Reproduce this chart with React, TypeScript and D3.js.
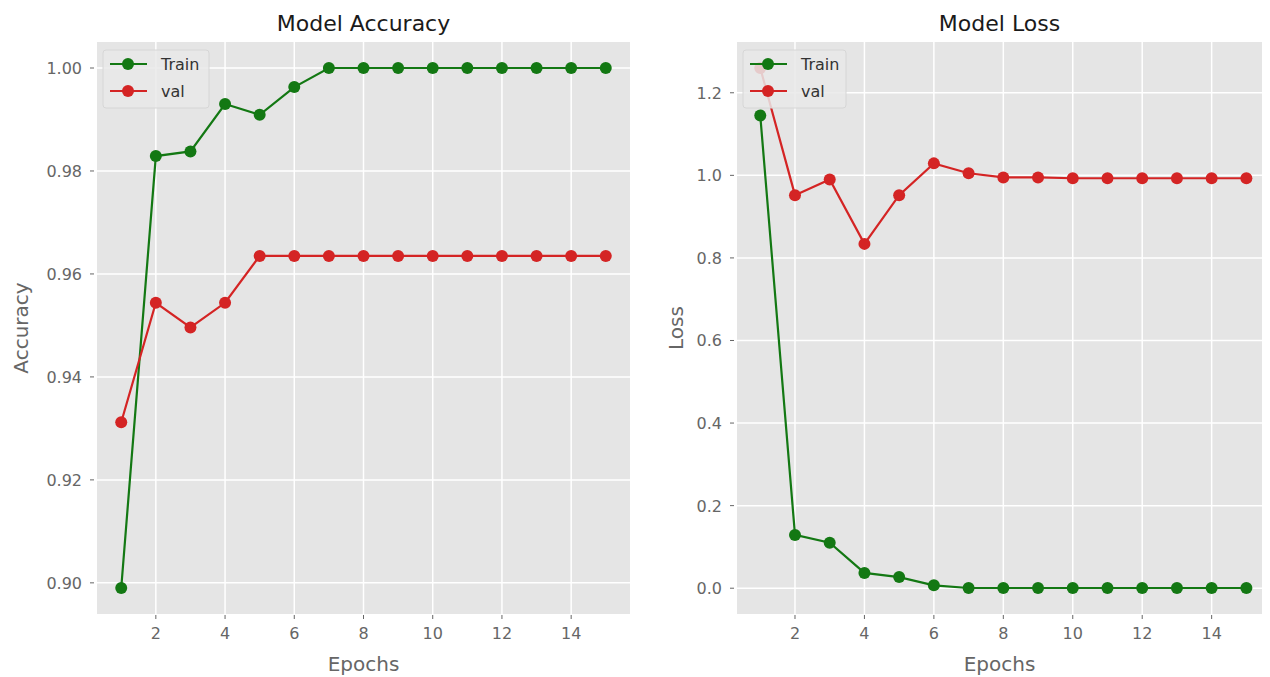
import React from "react";
import * as d3 from "d3";

const epochs = [1, 2, 3, 4, 5, 6, 7, 8, 9, 10, 11, 12, 13, 14, 15];
const accTrain = [0.899, 0.9829, 0.9838, 0.9930, 0.9909, 0.9963, 1.0, 1.0, 1.0, 1.0, 1.0, 1.0, 1.0, 1.0, 1.0];
const accVal = [0.9312, 0.9544, 0.9496, 0.9544, 0.9635, 0.9635, 0.9635, 0.9635, 0.9635, 0.9635, 0.9635, 0.9635, 0.9635, 0.9635, 0.9635];
const lossTrain = [1.145, 0.129, 0.110, 0.037, 0.027, 0.007, 0.0005, 0.0005, 0.0005, 0.0005, 0.0005, 0.0005, 0.0005, 0.0005, 0.0005];
const lossVal = [1.26, 0.952, 0.990, 0.834, 0.952, 1.029, 1.005, 0.995, 0.995, 0.993, 0.993, 0.993, 0.993, 0.993, 0.993];
const xTicks = [2, 4, 6, 8, 10, 12, 14];
const accTicks = [0.9, 0.92, 0.94, 0.96, 0.98, 1.0];
const lossTicks = [0.0, 0.2, 0.4, 0.6, 0.8, 1.0, 1.2];
const seriesNames = ["Train", "val"];

const GREEN = "#137813";
const RED = "#d42424";
const FONT = "'DejaVu Sans', Verdana, sans-serif";

type PanelProps = {
  left: number;
  right: number;
  top: number;
  bottom: number;
  xDomain: [number, number];
  train: number[];
  val: number[];
  yTicks: number[];
  fmt: string;
  title: string;
  yLabel: string;
  yLabelX: number;
  legendW: number;
};

function Panel(p: PanelProps) {
  const all = p.train.concat(p.val);
  const mn = d3.min(all) as number;
  const mx = d3.max(all) as number;
  const pad = (mx - mn) * 0.05;
  const x = d3.scaleLinear().domain(p.xDomain).range([p.left, p.right]);
  const y = d3.scaleLinear().domain([mn - pad, mx + pad]).range([p.bottom, p.top]);
  const f = d3.format(p.fmt);
  const line = d3
    .line<number>()
    .x((_, i) => x(epochs[i]))
    .y((d) => y(d));
  const cx = (p.left + p.right) / 2;
  const cy = (p.top + p.bottom) / 2;
  const lgX = p.left + 6;
  const lgY = p.top + 8;
  const series = [
    { name: seriesNames[0], data: p.train, color: GREEN },
    { name: seriesNames[1], data: p.val, color: RED },
  ];
  return (
    <g>
      <rect x={p.left} y={p.top} width={p.right - p.left} height={p.bottom - p.top} fill="#e5e5e5" />
      {xTicks.map((t) => (
        <line key={"gx" + t} x1={x(t)} x2={x(t)} y1={p.top} y2={p.bottom} stroke="#ffffff" strokeWidth={1.5} />
      ))}
      {p.yTicks.map((t) => (
        <line key={"gy" + t} x1={p.left} x2={p.right} y1={y(t)} y2={y(t)} stroke="#ffffff" strokeWidth={1.5} />
      ))}
      {xTicks.map((t) => (
        <g key={"tx" + t}>
          <line x1={x(t)} x2={x(t)} y1={p.bottom + 1} y2={p.bottom + 5} stroke="#666" strokeWidth={1} />
          <text x={x(t)} y={p.bottom + 25} textAnchor="middle" fontSize={16} fill="#666" fontFamily={FONT}>
            {t}
          </text>
        </g>
      ))}
      {p.yTicks.map((t) => (
        <g key={"ty" + t}>
          <line x1={p.left - 7} x2={p.left - 3} y1={y(t)} y2={y(t)} stroke="#666" strokeWidth={1} />
          <text x={p.left - 15} y={y(t) + 6} textAnchor="end" fontSize={16} fill="#666" fontFamily={FONT}>
            {f(t)}
          </text>
        </g>
      ))}
      {series.map((s) => (
        <g key={s.name}>
          <path d={line(s.data) || ""} fill="none" stroke={s.color} strokeWidth={2.2} />
          {s.data.map((v, i) => (
            <circle key={i} cx={x(epochs[i])} cy={y(v)} r={6} fill={s.color} />
          ))}
        </g>
      ))}
      <text x={cx} y={31} textAnchor="middle" fontSize={22} fill="#1a1a1a" fontFamily={FONT}>
        {p.title}
      </text>
      <text x={cx} y={671} textAnchor="middle" fontSize={20} fill="#666" fontFamily={FONT}>
        Epochs
      </text>
      <text
        transform={`translate(${p.yLabelX},${cy}) rotate(-90)`}
        textAnchor="middle"
        fontSize={20}
        fill="#666"
        fontFamily={FONT}
      >
        {p.yLabel}
      </text>
      <rect x={lgX} y={lgY} width={p.legendW} height={58} rx={3} fill="#e9e9e9" fillOpacity={0.85} stroke="#d6d6d6" strokeWidth={1} />
      {series.map((s, i) => {
        const ly = lgY + 14 + i * 27;
        return (
          <g key={"lg" + s.name}>
            <line x1={lgX + 7} x2={lgX + 44} y1={ly} y2={ly} stroke={s.color} strokeWidth={2.2} />
            <circle cx={lgX + 25} cy={ly} r={6} fill={s.color} />
            <text x={lgX + 58} y={ly + 6} fontSize={16} fill="#333" fontFamily={FONT}>
              {s.name}
            </text>
          </g>
        );
      })}
    </g>
  );
}

export default function App() {
  return (
    <svg width={1270} height={677} style={{ position: "absolute", left: 0, top: 0, background: "#fff" }}>
      <rect x={0} y={0} width={1270} height={677} fill="#ffffff" />
      <Panel
        left={97}
        right={630}
        top={42}
        bottom={614}
        xDomain={[0.3, 15.7]}
        train={accTrain}
        val={accVal}
        yTicks={accTicks}
        fmt=".2f"
        title="Model Accuracy"
        yLabel="Accuracy"
        yLabelX={28}
        legendW={106}
      />
      <Panel
        left={737}
        right={1262}
        top={42}
        bottom={614}
        xDomain={[0.33, 15.45]}
        train={lossTrain}
        val={lossVal}
        yTicks={lossTicks}
        fmt=".1f"
        title="Model Loss"
        yLabel="Loss"
        yLabelX={683}
        legendW={103}
      />
    </svg>
  );
}
